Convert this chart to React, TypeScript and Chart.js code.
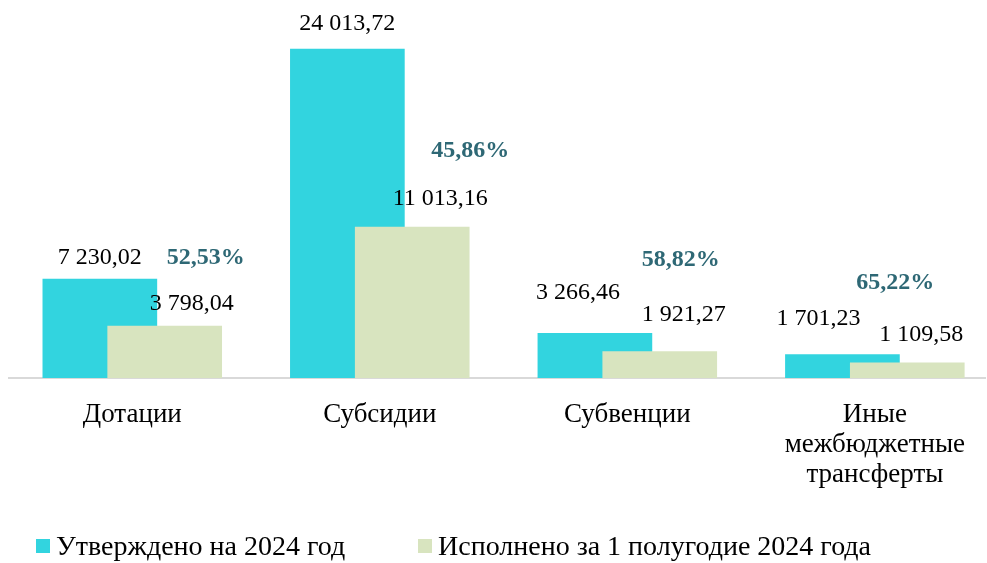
import React, { useEffect, useRef } from "react";
import { Chart, registerables } from "chart.js";

Chart.register(...registerables);

const categoryLines: string[][] = [
  ["Дотации"],
  ["Субсидии"],
  ["Субвенции"],
  ["Иные", "межбюджетные", "трансферты"],
];
const approved = [7230.02, 24013.72, 3266.46, 1701.23];
const executed = [3798.04, 11013.16, 1921.27, 1109.58];
const seriesNames = ["Утверждено на 2024 год", "Исполнено за 1 полугодие 2024 года"];

const COLOR_A = "#32D4DF";
const COLOR_B = "#D8E4BF";
const COLOR_PCT = "#2E6875";
const FONT = '"Liberation Serif", "DejaVu Serif", serif';

// label offsets in px (dx, dy) relative to bar top centre
const offA: [number, number][] = [[0, -21], [0, -25], [-17, -41], [-24, -36]];
const offB: [number, number][] = [[27, -22], [28, -28], [24, -37], [14, -28]];
const offPct: [number, number][] = [[41, -68], [58, -76], [21, -92], [-12, -80]];

const SHIFT = 0.131;

function fmt(n: number): string {
  const [i, d] = n.toFixed(2).split(".");
  const withSp = i.replace(/\B(?=(\d{3})+(?!\d))/g, " ");
  return withSp + "," + d;
}

const labelsPlugin = {
  id: "customLabels",
  afterDatasetsDraw(chart: any) {
    const ctx = chart.ctx;
    const metaA = chart.getDatasetMeta(0);
    const metaB = chart.getDatasetMeta(1);
    ctx.save();
    ctx.textAlign = "center";
    ctx.textBaseline = "middle";
    for (let i = 0; i < approved.length; i++) {
      const ea = metaA.data[i];
      const eb = metaB.data[i];
      ctx.font = `24px ${FONT}`;
      ctx.fillStyle = "#000";
      ctx.fillText(fmt(approved[i]), ea.x + offA[i][0], ea.y + offA[i][1]);
      ctx.fillText(fmt(executed[i]), eb.x + offB[i][0], eb.y + offB[i][1]);
      const pct = ((executed[i] / approved[i]) * 100).toFixed(2).replace(".", ",") + "%";
      ctx.font = `bold 24px ${FONT}`;
      ctx.fillStyle = COLOR_PCT;
      ctx.fillText(pct, eb.x + offPct[i][0], eb.y + offPct[i][1]);
    }
    ctx.restore();
  },
  afterDraw(chart: any) {
    const ctx = chart.ctx;
    const items = [
      { x: 36, color: COLOR_A, text: seriesNames[0] },
      { x: 418, color: COLOR_B, text: seriesNames[1] },
    ];
    ctx.save();
    ctx.font = `28px ${FONT}`;
    ctx.textBaseline = "middle";
    ctx.textAlign = "left";
    for (const it of items) {
      ctx.fillStyle = it.color;
      ctx.fillRect(it.x, 539, 14, 14);
      ctx.fillStyle = "#000";
      ctx.fillText(it.text, it.x + 20, 548);
    }
    ctx.restore();
  },
};

export default function App() {
  const ref = useRef<HTMLCanvasElement | null>(null);
  useEffect(() => {
    if (!ref.current) return;
    let chart: Chart | null = null;
    let cancelled = false;
    const make = () => {
      if (cancelled || !ref.current) return;
      chart = new Chart(ref.current, {
        type: "bar",
        data: {
          datasets: [
            {
              label: seriesNames[0],
              data: approved.map((v, i) => ({ x: i - SHIFT, y: v })),
              backgroundColor: COLOR_A,
              barThickness: 114,
              grouped: false,
              order: 1,
            } as any,
            {
              label: seriesNames[1],
              data: executed.map((v, i) => ({ x: i + SHIFT, y: v })),
              backgroundColor: COLOR_B,
              barThickness: 114,
              grouped: false,
              order: 0,
            } as any,
          ],
        },
        options: {
          animation: false,
          responsive: true,
          maintainAspectRatio: false,
          layout: { padding: { left: 9, right: 0, top: 0, bottom: 0 } },
          plugins: {
            legend: { display: false },
            tooltip: { enabled: false },
          },
          scales: {
            x: {
              type: "linear",
              offset: false,
              min: -0.498,
              max: 3.446,
              grid: { display: false, drawTicks: false, offset: false },
              border: { display: true, color: "#D9D9D9", width: 2 },
              afterBuildTicks: (scale: any) => {
                scale.ticks = categoryLines.map((_, i) => ({ value: i }));
              },
              afterFit: (scale: any) => {
                scale.height = 185;
              },
              ticks: {
                autoSkip: false,
                maxRotation: 0,
                padding: 22,
                color: "#000",
                font: { family: FONT, size: 27, lineHeight: 1.11 },
                callback: (v: any) => categoryLines[Math.round(Number(v))] ?? "",
              },
            } as any,
            y: {
              display: false,
              min: 0,
              max: 27600,
            },
          },
        },
        plugins: [labelsPlugin],
      });
    };
    const fontsAny: any = (document as any).fonts;
    if (fontsAny && fontsAny.load) {
      Promise.all([
        fontsAny.load('24px "Liberation Serif"'),
        fontsAny.load('bold 24px "Liberation Serif"'),
      ])
        .catch(() => {})
        .then(make);
    } else {
      make();
    }
    return () => {
      cancelled = true;
      if (chart) chart.destroy();
    };
  }, []);
  return (
    <div style={{ position: "fixed", left: 0, top: 0, width: 987, height: 563, background: "#fff" }}>
      <canvas ref={ref} />
    </div>
  );
}
